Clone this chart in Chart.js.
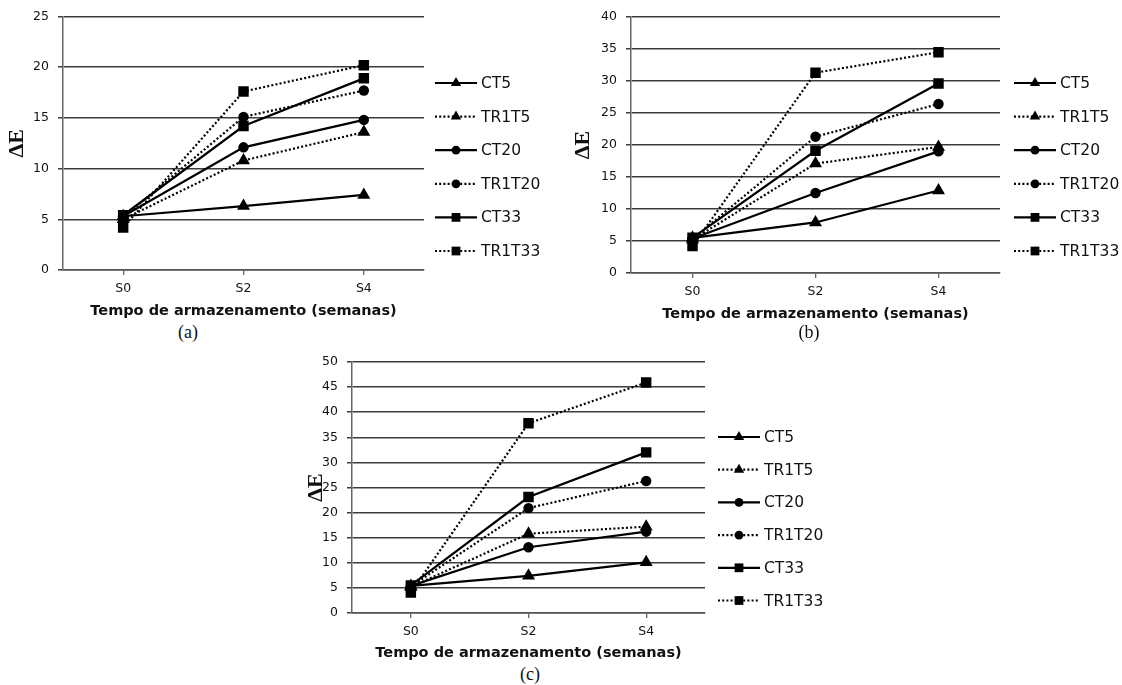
<!DOCTYPE html>
<html>
<head>
<meta charset="utf-8">
<script src="https://cdn.jsdelivr.net/npm/chart.js@4.4.1/dist/chart.umd.min.js"></script>
<style>
  body { margin: 0; background: #fff; width: 1122px; height: 685px; position: relative; overflow: hidden; }
  canvas { position: absolute; }
  .cap { position: absolute; font-family: "Liberation Serif", serif; font-size: 18px; color: #111; transform: translateX(-50%); }
</style>
</head>
<body>
<canvas id="chartA" width="550" height="320" style="left:0;top:0"></canvas>
<canvas id="chartB" width="556" height="323" style="left:566px;top:0"></canvas>
<canvas id="chartC" width="540" height="317" style="left:299px;top:345px"></canvas>
<div class="cap" style="left:188px;top:322px">(a)</div>
<div class="cap" style="left:809px;top:322px">(b)</div>
<div class="cap" style="left:530px;top:664px">(c)</div>
<script>
const weeks = ['S0', 'S2', 'S4'];
const seriesNames = ['CT5', 'TR1T5', 'CT20', 'TR1T20', 'CT33', 'TR1T33'];
const markers = ['triangle', 'triangle', 'circle', 'circle', 'rect', 'rect'];
const dotted = [false, true, false, true, false, true];

// ΔE per treatment, rows follow seriesNames
const valuesA = [
  [5.3, 6.3, 7.4],
  [5.0, 10.8, 13.6],
  [5.3, 12.1, 14.8],
  [5.2, 15.1, 17.7],
  [5.4, 14.2, 18.9],
  [4.2, 17.6, 20.2]
];
const valuesB = [
  [5.5, 7.9, 12.9],
  [5.2, 17.1, 19.7],
  [5.4, 12.5, 19.0],
  [5.3, 21.3, 26.4],
  [5.5, 19.1, 29.6],
  [4.2, 31.3, 34.5]
];
const valuesC = [
  [5.4, 7.4, 10.1],
  [5.2, 15.8, 17.2],
  [5.4, 13.1, 16.2],
  [5.3, 20.9, 26.3],
  [5.5, 23.1, 32.0],
  [4.1, 37.8, 45.9]
];
const yMaxA = 25, yMaxB = 40, yMaxC = 50;
const yStep = 5;

const radius = { triangle: 7.5, circle: 5.2, rect: 7.4 };
const legendRadius = { triangle: 6, circle: 4.4, rect: 6.2 };

function marker(ctx, style, x, y, r) {
  ctx.beginPath();
  if (style === 'triangle') {
    ctx.moveTo(x, y - r);
    ctx.lineTo(x + r * 0.866, y + r * 0.5);
    ctx.lineTo(x - r * 0.866, y + r * 0.5);
    ctx.closePath();
  } else if (style === 'circle') {
    ctx.arc(x, y, r, 0, Math.PI * 2);
  } else {
    const s = r * Math.SQRT1_2;
    ctx.rect(x - s, y - s, 2 * s, 2 * s);
  }
  ctx.fill();
}

// legend drawn to the right of the plot: line sample + marker + label
const sideLegend = {
  id: 'sideLegend',
  afterDraw(chart, args, opts) {
    const ctx = chart.ctx;
    const x0 = chart.chartArea.right + opts.dx;
    ctx.save();
    chart.data.datasets.forEach((ds, i) => {
      const y = opts.top + i * opts.gap;
      ctx.strokeStyle = '#000';
      ctx.fillStyle = '#000';
      ctx.lineWidth = 2.2;
      ctx.setLineDash(ds.borderDash || []);
      ctx.beginPath();
      ctx.moveTo(x0, y);
      ctx.lineTo(x0 + 42, y);
      ctx.stroke();
      ctx.setLineDash([]);
      marker(ctx, ds.pointStyle, x0 + 21, y, legendRadius[ds.pointStyle]);
      ctx.font = '15.5px "DejaVu Sans"';
      ctx.textBaseline = 'middle';
      ctx.fillStyle = '#111';
      ctx.fillText(ds.label, x0 + 46, y + 1);
    });
    ctx.restore();
  }
};

function makeChart(id, values, yMax, pad, yWidth, legend) {
  const canvas = document.getElementById(id);
  const datasets = seriesNames.map((name, i) => ({
    label: name,
    data: values[i],
    borderColor: '#000',
    backgroundColor: '#000',
    borderWidth: 2.2,
    borderDash: dotted[i] ? [2, 2.2] : [],
    pointStyle: markers[i],
    pointRadius: radius[markers[i]],
    pointBackgroundColor: '#000',
    pointBorderColor: '#000',
    pointBorderWidth: 0,
    tension: 0
  }));
  return new Chart(canvas, {
    type: 'line',
    data: { labels: weeks, datasets: datasets },
    plugins: [sideLegend],
    options: {
      responsive: false,
      animation: false,
      layout: { padding: { top: pad.top, right: pad.right, left: 0, bottom: 0 } },
      plugins: {
        legend: { display: false },
        tooltip: { enabled: false },
        sideLegend: legend
      },
      scales: {
        x: {
          type: 'category',
          offset: true,
          grid: { drawOnChartArea: false, drawTicks: true, tickLength: 5, color: '#666', lineWidth: 1.3 },
          border: { color: '#555', width: 1.5 },
          ticks: { color: '#111', padding: 6, font: { family: '"DejaVu Sans"', size: 12.5 } },
          title: {
            display: true,
            text: 'Tempo de armazenamento (semanas)',
            color: '#111',
            padding: 0,
            font: { family: '"DejaVu Sans"', size: 14.5, weight: 'bold' }
          },
          afterFit(scale) { scale.height = pad.bottom; }
        },
        y: {
          min: 0,
          max: yMax,
          grid: { color: '#3c3c3c', lineWidth: 1.5, tickLength: 5 },
          border: { color: '#666', width: 1.5 },
          ticks: { stepSize: yStep, color: '#111', padding: 9, font: { family: '"DejaVu Sans"', size: 12.5 } },
          title: {
            display: true,
            text: 'ΔE',
            color: '#111',
            padding: 4,
            font: { family: '"Liberation Serif"', size: 22, weight: 'bold' }
          },
          afterFit(scale) { scale.width = yWidth; }
        }
      }
    }
  });
}

makeChart('chartA', valuesA, yMaxA, { top: 14, right: 126, bottom: 50 }, 63, { dx: 11, top: 83, gap: 33.6 });
makeChart('chartB', valuesB, yMaxB, { top: 17, right: 122, bottom: 50 }, 65, { dx: 14, top: 83, gap: 33.6 });
makeChart('chartC', valuesC, yMaxC, { top: 17, right: 134, bottom: 49 }, 53, { dx: 13, top: 92, gap: 32.7 });
</script>
</body>
</html>
